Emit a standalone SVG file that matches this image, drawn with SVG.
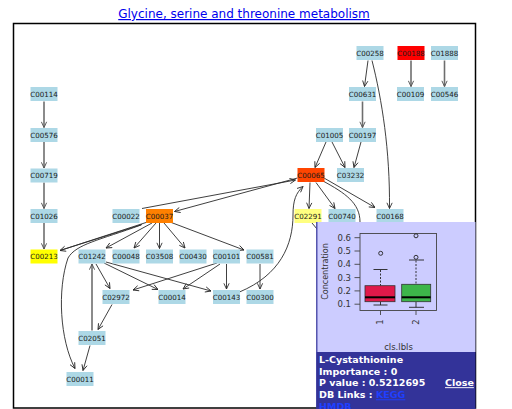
<svg xmlns="http://www.w3.org/2000/svg" width="512" height="409" viewBox="0 0 512 409">
<style>
.n rect{fill:#add8e6}
.n text{font-family:"DejaVu Sans",Verdana,sans-serif;font-size:7.1px;fill:#1a1a1a;text-anchor:middle}
.e{fill:none;stroke:#2a2a2a;stroke-width:0.9;marker-end:url(#ad)}
.g{fill:none;stroke:#6e6e6e;stroke-width:1.6;marker-end:url(#ag)}
.p{fill:none;stroke:#2a2a2a;stroke-width:0.9}
.ax{font-family:"DejaVu Sans",Verdana,sans-serif;font-size:8.5px;fill:#333}
.pt{font-family:"DejaVu Sans",Verdana,sans-serif;font-size:9.5px;font-weight:bold;fill:#fff}
</style>
<defs>
<marker id="ad" viewBox="0 0 8 8" refX="7.5" refY="4" markerWidth="7" markerHeight="7" markerUnits="userSpaceOnUse" orient="auto"><path d="M1,1 L7.5,4 L1,7" fill="none" stroke="#2a2a2a" stroke-width="1"/></marker>
<marker id="ag" viewBox="0 0 8 8" refX="7.5" refY="4" markerWidth="7" markerHeight="7" markerUnits="userSpaceOnUse" orient="auto"><path d="M1,1 L7.5,4 L1,7" fill="none" stroke="#555" stroke-width="1.1"/></marker>
</defs>
<rect width="512" height="409" fill="#fff"/>
<text x="244" y="18" font-family="DejaVu Sans,Verdana,sans-serif" font-size="12px" fill="#0000ee" text-anchor="middle" text-decoration="underline">Glycine, serine and threonine metabolism</text>
<rect x="13.5" y="23.5" width="462" height="384.5" fill="none" stroke="#000" stroke-width="1.5"/>
<g id="connectors">
<path class="g" d="M44,101.5 L44,127.5"/>
<path class="g" d="M44,142 L44,168"/>
<path class="g" d="M44,182.5 L44,208.5"/>
<path class="g" d="M44,223 L44,249"/>
<path class="g" d="M411,60.5 L411,86.5"/>
<path class="g" d="M444.5,60.5 L444.5,86.5"/>
<path class="g" d="M362.5,101.5 L362.5,127.5"/>
<path class="g" d="M92,330.5 L92,264"/>
<path class="e" d="M368,60.5 L364.5,86.5"/>
<path class="e" d="M372,60.5 C382,100 390,150 389.5,208.5"/>
<path class="e" d="M326,142 L315,167.5"/>
<path class="e" d="M332,142 L345,167.5"/>
<path class="e" d="M361,142 L354,167.5"/>
<path class="e" d="M310,182.5 L309,208.5"/>
<path class="e" d="M316,182.5 L335,208.5"/>
<path class="e" d="M324,178 L375,207.5"/>
<path class="p" d="M323,181 C345,193 360,203 360,222 L360,240"/>
<path class="p" d="M312,223 L322,235"/>
<path class="e" d="M239.5,292 C280,275 293,245 293,215 C293,200 296,193 303,186.5"/>
<path class="e" d="M142,208.5 L295.5,180"/>
<path class="e" d="M297.5,178 L174.5,211.5"/>
<path class="e" d="M146,222.5 L60,250.5"/>
<path class="p" d="M142,224.5 L60,250.5"/>
<path class="e" d="M141,225 C100,240 76,244 68,258 C57,290 60,340 75,368.5"/>
<path class="e" d="M152,223 L106,248"/>
<path class="e" d="M156,223 L134,248"/>
<path class="e" d="M159.5,223 L159.5,248.5"/>
<path class="e" d="M164,223 L185,248"/>
<path class="e" d="M170,222 L244,250"/>
<path class="e" d="M96,264 L110,288.5"/>
<path class="e" d="M104,263 L158,289.5"/>
<path class="e" d="M106,262 L211,291"/>
<path class="e" d="M217,263 L133,290"/>
<path class="e" d="M220,264 L183,289"/>
<path class="e" d="M226.5,264 L226.5,289"/>
<path class="e" d="M260,264 L260,289"/>
<path class="e" d="M112,304.5 L98,329.5"/>
<path class="e" d="M90,345.5 L83,370.5"/>
</g>
<g id="C00258" class="n"><rect x="356.5" y="46" width="27" height="14"/><text x="370" y="55.5">C00258</text></g>
<g id="C00188" class="n"><rect x="397.5" y="46" width="27" height="14" style="fill:#ff0000"/><text x="411" y="55.5">C00188</text></g>
<g id="C01888" class="n"><rect x="431" y="46" width="27" height="14"/><text x="444.5" y="55.5">C01888</text></g>
<g id="C00631" class="n"><rect x="349" y="87" width="27" height="14"/><text x="362.5" y="96.5">C00631</text></g>
<g id="C00109" class="n"><rect x="397" y="87" width="27" height="14"/><text x="410.5" y="96.5">C00109</text></g>
<g id="C00546" class="n"><rect x="431" y="87" width="27" height="14"/><text x="444.5" y="96.5">C00546</text></g>
<g id="C01005" class="n"><rect x="316" y="128" width="27" height="14"/><text x="329.5" y="137.5">C01005</text></g>
<g id="C00197" class="n"><rect x="349" y="128" width="27" height="14"/><text x="362.5" y="137.5">C00197</text></g>
<g id="C00065" class="n"><rect x="297.5" y="168" width="27" height="14" style="fill:#ff4500"/><text x="311" y="177.5">C00065</text></g>
<g id="C03232" class="n"><rect x="337" y="168" width="27" height="14"/><text x="350.5" y="177.5">C03232</text></g>
<g id="C02291" class="n"><rect x="294.5" y="209" width="27" height="14" style="fill:#ffff80"/><text x="308" y="218.5">C02291</text></g>
<g id="C00740" class="n"><rect x="328.5" y="209" width="27" height="14"/><text x="342" y="218.5">C00740</text></g>
<g id="C00168" class="n"><rect x="376.5" y="209" width="27" height="14"/><text x="390" y="218.5">C00168</text></g>
<g id="C00114" class="n"><rect x="30.5" y="87" width="27" height="14"/><text x="44" y="96.5">C00114</text></g>
<g id="C00576" class="n"><rect x="30.5" y="128" width="27" height="14"/><text x="44" y="137.5">C00576</text></g>
<g id="C00719" class="n"><rect x="30.5" y="168.5" width="27" height="14"/><text x="44" y="178">C00719</text></g>
<g id="C01026" class="n"><rect x="30.5" y="209" width="27" height="14"/><text x="44" y="218.5">C01026</text></g>
<g id="C00213" class="n"><rect x="30.5" y="249.5" width="27" height="14" style="fill:#ffff00"/><text x="44" y="259">C00213</text></g>
<g id="C00022" class="n"><rect x="112.5" y="209" width="27" height="14"/><text x="126" y="218.5">C00022</text></g>
<g id="C00037" class="n"><rect x="146" y="209" width="27" height="14" style="fill:#ff8000"/><text x="159.5" y="218.5">C00037</text></g>
<g id="C01242" class="n"><rect x="78.5" y="249.5" width="27" height="14"/><text x="92" y="259">C01242</text></g>
<g id="C00048" class="n"><rect x="112.5" y="249.5" width="27" height="14"/><text x="126" y="259">C00048</text></g>
<g id="C03508" class="n"><rect x="146" y="249.5" width="27" height="14"/><text x="159.5" y="259">C03508</text></g>
<g id="C00430" class="n"><rect x="179.5" y="249.5" width="27" height="14"/><text x="193" y="259">C00430</text></g>
<g id="C00101" class="n"><rect x="213" y="249.5" width="27" height="14"/><text x="226.5" y="259">C00101</text></g>
<g id="C00581" class="n"><rect x="246.5" y="249.5" width="27" height="14"/><text x="260" y="259">C00581</text></g>
<g id="C02972" class="n"><rect x="102.5" y="290" width="27" height="14"/><text x="116" y="299.5">C02972</text></g>
<g id="C00014" class="n"><rect x="158.5" y="290" width="27" height="14"/><text x="172" y="299.5">C00014</text></g>
<g id="C00143" class="n"><rect x="213" y="290" width="27" height="14"/><text x="226.5" y="299.5">C00143</text></g>
<g id="C00300" class="n"><rect x="246.5" y="290" width="27" height="14"/><text x="260" y="299.5">C00300</text></g>
<g id="C02051" class="n"><rect x="78.5" y="331" width="27" height="14"/><text x="92" y="340.5">C02051</text></g>
<g id="C00011" class="n"><rect x="66.5" y="372" width="27" height="14"/><text x="80" y="381.5">C00011</text></g>
<g id="popup">
<rect x="316.5" y="222" width="159" height="130" fill="#ccccff"/>
<rect x="316.5" y="352" width="159" height="57" fill="#333399"/>
<line x1="316.8" y1="222" x2="316.8" y2="409" stroke="#333399" stroke-width="1.2"/>
<rect x="360" y="233.5" width="76.5" height="77" fill="none" stroke="#444" stroke-width="0.9"/>
<g stroke="#444" stroke-width="0.9">
<line x1="354.5" y1="237.7" x2="360" y2="237.7"/>
<line x1="354.5" y1="251" x2="360" y2="251"/>
<line x1="354.5" y1="264.3" x2="360" y2="264.3"/>
<line x1="354.5" y1="277.6" x2="360" y2="277.6"/>
<line x1="354.5" y1="290.9" x2="360" y2="290.9"/>
<line x1="354.5" y1="304.2" x2="360" y2="304.2"/>
<line x1="380.5" y1="310.5" x2="380.5" y2="315"/>
<line x1="416" y1="310.5" x2="416" y2="315"/>
</g>
<g class="ax" text-anchor="end">
<text x="351" y="240.7">0.6</text>
<text x="351" y="254">0.5</text>
<text x="351" y="267.3">0.4</text>
<text x="351" y="280.6">0.3</text>
<text x="351" y="293.9">0.2</text>
<text x="351" y="307.2">0.1</text>
</g>
<text class="ax" transform="translate(328,271.5) rotate(-90)" text-anchor="middle" style="font-size:8px">Concentration</text>
<text class="ax" transform="translate(383,322) rotate(-90)" text-anchor="middle">1</text>
<text class="ax" transform="translate(418.5,322) rotate(-90)" text-anchor="middle">2</text>
<text class="ax" x="398.5" y="350" text-anchor="middle">cls.lbls</text>
<g stroke="#222" stroke-width="0.9" fill="none">
<line x1="380.5" y1="270" x2="380.5" y2="285.7" stroke-dasharray="2,1.5"/>
<line x1="380.5" y1="301.7" x2="380.5" y2="305"/>
<line x1="373.5" y1="269.5" x2="387.5" y2="269.5"/>
<line x1="373.5" y1="305" x2="387.5" y2="305"/>
<circle cx="380.7" cy="253.3" r="2"/>
<line x1="416" y1="260.5" x2="416" y2="284.3" stroke-dasharray="2,1.5"/>
<line x1="416" y1="301.7" x2="416" y2="307.3"/>
<line x1="409" y1="260" x2="424" y2="260"/>
<line x1="409" y1="307.3" x2="424" y2="307.3"/>
<circle cx="416" cy="257.3" r="2"/>
<circle cx="416" cy="235.8" r="2"/>
</g>
<rect x="365" y="285.7" width="30" height="16" fill="#e0194a" stroke="#333" stroke-width="0.8"/>
<rect x="401.7" y="284.3" width="29" height="17.4" fill="#3db54a" stroke="#333" stroke-width="0.8"/>
<line x1="365" y1="297.3" x2="395" y2="297.3" stroke="#000" stroke-width="2"/>
<line x1="401.7" y1="297.3" x2="430.7" y2="297.3" stroke="#000" stroke-width="2"/>
<text class="pt" x="319" y="363">L-Cystathionine</text>
<text class="pt" x="319" y="374.7">Importance : 0</text>
<text class="pt" x="319" y="386.2">P value : 0.5212695</text>
<text class="pt" x="445" y="386.2" text-decoration="underline">Close</text>
<text class="pt" x="319" y="398.3">DB Links : <tspan fill="#1f3fff" text-decoration="underline">KEGG</tspan></text>
<text class="pt" x="319" y="410" fill="#1f3fff" style="fill:#1f3fff" text-decoration="underline">HMDB</text>
</g>
</svg>
